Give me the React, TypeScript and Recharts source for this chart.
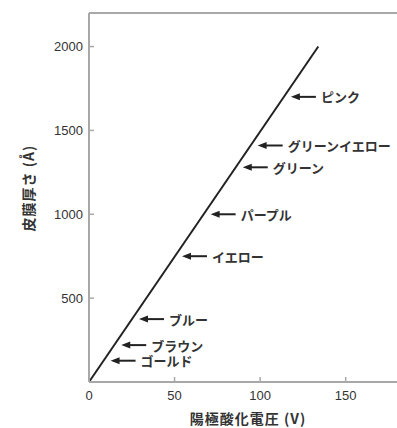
import React from "react";
import { ComposedChart, Line, Scatter, XAxis, YAxis, ReferenceLine } from "recharts";

// anodizing voltage (V) vs oxide film thickness (Å)
const lineVoltage = [0, 134];
const lineThickness = [0, 2000];

const colorNames = [
  "ピンク",
  "グリーンイエロー",
  "グリーン",
  "パープル",
  "イエロー",
  "ブルー",
  "ブラウン",
  "ゴールド",
];
const colorThickness = [1700, 1410, 1280, 1000, 750, 375, 220, 127];

const xTicks = [0, 50, 100, 150];
const yTicks = [500, 1000, 1500, 2000];

const slope = lineThickness[1] / lineVoltage[1];

const lineData = lineVoltage.map((v, i) => ({ x: v, y: lineThickness[i] }));
const arrowData = colorNames.map((name, i) => ({
  x: colorThickness[i] / slope,
  y: colorThickness[i],
  name,
}));

const AXIS = "#a8a8a8";
const INK = "#333";

function ArrowLabel(props: any) {
  const { cx, cy, payload } = props;
  const tip = cx + 7;
  return (
    <g>
      <polygon points={`${tip},${cy} ${tip + 9},${cy - 3.5} ${tip + 9},${cy + 3.5}`} fill="#222" />
      <line x1={tip + 6} y1={cy} x2={tip + 25} y2={cy} stroke="#222" strokeWidth={2} />
      <text
        x={tip + 30}
        y={cy}
        dominantBaseline="central"
        fontSize={13}
        fontWeight={600}
        fill={INK}
        fontFamily="'Noto Sans CJK JP', sans-serif"
      >
        {payload.name}
      </text>
    </g>
  );
}

export default function App() {
  return (
    <div style={{ position: "absolute", left: 0, top: 0, background: "#fff" }}>
      <ComposedChart width={397} height={428} margin={{ top: 13, right: 0, left: 0, bottom: 0 }}>
        <XAxis
          dataKey="x"
          type="number"
          domain={[0, 180]}
          ticks={xTicks}
          height={46}
          tickSize={-5}
          tickMargin={14}
          axisLine={{ stroke: AXIS, strokeWidth: 2 }}
          tickLine={{ stroke: AXIS, strokeWidth: 1.5 }}
          tick={{ fill: INK, fontSize: 13, fontFamily: "'Liberation Sans', Arial, sans-serif" }}
          label={{
            content: () => (
              <text
                x={248}
                y={418}
                textAnchor="middle"
                dominantBaseline="central"
                fontSize={14}
                fontWeight={600}
                letterSpacing={1}
                fill={INK}
                fontFamily="'Noto Sans CJK JP', sans-serif"
              >
                陽極酸化電圧 (V)
              </text>
            ),
          }}
        />
        <YAxis
          dataKey="y"
          type="number"
          domain={[0, 2200]}
          ticks={yTicks}
          width={89}
          tickSize={-5}
          tickMargin={11}
          axisLine={{ stroke: AXIS, strokeWidth: 2 }}
          tickLine={{ stroke: AXIS, strokeWidth: 1.5 }}
          tick={{ fill: INK, fontSize: 13, fontFamily: "'Liberation Sans', Arial, sans-serif" }}
          label={{
            content: () => (
              <text
                transform="translate(28,188) rotate(-90)"
                textAnchor="middle"
                dominantBaseline="central"
                fontSize={14}
                fontWeight={600}
                letterSpacing={1}
                fill={INK}
                fontFamily="'Noto Sans CJK JP', sans-serif"
              >
                皮膜厚さ (Å)
              </text>
            ),
          }}
        />
        <ReferenceLine y={2200} stroke={AXIS} strokeWidth={2} />
        <Line
          data={lineData}
          dataKey="y"
          type="linear"
          stroke="#222"
          strokeWidth={2}
          dot={false}
          isAnimationActive={false}
        />
        <Scatter data={arrowData} dataKey="y" shape={ArrowLabel} isAnimationActive={false} />
      </ComposedChart>
    </div>
  );
}
